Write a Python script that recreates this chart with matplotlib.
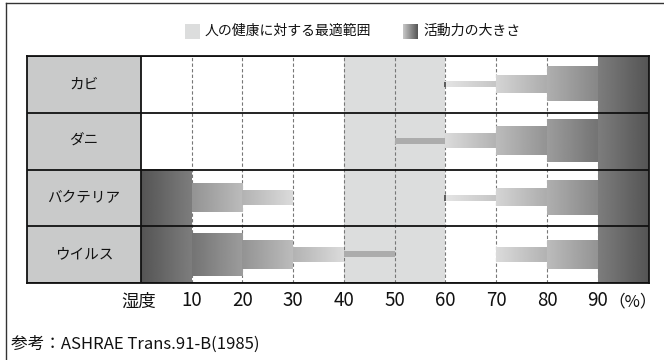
import numpy as np
import matplotlib
matplotlib.use("Agg")
import matplotlib.pyplot as plt
from matplotlib.patches import Rectangle
from matplotlib.lines import Line2D

plt.rcParams['font.family'] = ['Noto Sans CJK JP', 'DejaVu Sans']

# data
organisms = ['カビ', 'ダニ', 'バクテリア', 'ウイルス']
seg_start = [[60, 70, 80, 90],
             [50, 60, 70, 80, 90],
             [0, 10, 20, 60, 70, 80, 90],
             [0, 10, 20, 30, 40, 70, 80, 90]]
# activity level (fraction of row height)
seg_level = [[0.1, 0.3, 0.6, 1.0],
             [0.1, 0.25, 0.5, 0.75, 1.0],
             [1.0, 0.5, 0.25, 0.1, 0.3, 0.6, 1.0],
             [1.0, 0.75, 0.5, 0.25, 0.1, 0.25, 0.5, 1.0]]
seg_width = 10
optimal = (40, 60)
humidity_ticks = [10, 20, 30, 40, 50, 60, 70, 80, 90]
legend_labels = ['人の健康に対する最適範囲', '活動力の大きさ']
source = '参考：ASHRAE Trans.91-B(1985)'

W, H = 664, 360
fig = plt.figure(figsize=(W / 100, H / 100), dpi=100, facecolor='w')

# table axes: pixels x 27..648.5, y 56..283
x0, x1, y0, y1 = 27, 648.5, 56, 283
ax = fig.add_axes([x0 / W, 1 - y1 / H, (x1 - x0) / W, (y1 - y0) / H])
lab_w = 22.45  # label column width in data units
nrow = len(organisms)

band_col = '#dcdddd'
ax.axvspan(optimal[0], optimal[1], color=band_col, zorder=0, lw=0)
ax.add_patch(Rectangle((-lab_w, 0), lab_w, nrow, facecolor='#c9caca',
                       edgecolor='none', zorder=0))

for t in humidity_ticks:
    ax.axvline(t, color='#777777', lw=0.8, ls=(0, (3, 2)), zorder=1)


def grad(light, dark, dark_right):
    g = np.linspace(light, dark, 64) if dark_right else np.linspace(dark, light, 64)
    return g[None, :]


for i, name in enumerate(organisms):
    cy = nrow - i - 0.5
    for s, h in zip(seg_start[i], seg_level[i]):
        dark = 85 + (1 - h) * 125
        light = min(dark + 40, 228)
        if optimal[0] <= s < optimal[1]:
            img = np.full((1, 2), 172.0)
        else:
            img = grad(light, dark, s >= 50)
        ax.imshow(img, cmap='gray', vmin=0, vmax=255, aspect='auto',
                  extent=(s, s + seg_width, cy - h / 2, cy + h / 2),
                  interpolation='bilinear', zorder=2)
        if s == optimal[1] and h < 0.2:
            ax.plot([s, s], [cy - h / 2, cy + h / 2], color='#444444',
                    lw=1.2, solid_capstyle='butt', zorder=3)
    ax.text(-lab_w / 2, cy, name, ha='center', va='center', fontsize=10.5,
            color='#111111')

for k in range(nrow + 1):
    ax.axhline(k, color='#111111', lw=1.3, zorder=4)
ax.axvline(0, color='#111111', lw=1.3, zorder=4)

ax.set_xlim(-lab_w, 100)
ax.set_ylim(0, nrow)
for sp in ax.spines.values():
    sp.set_linewidth(1.3)
    sp.set_color('#111111')
    sp.set_zorder(5)
ax.set_yticks([])
ax.set_xticks(humidity_ticks)
ax.set_xticklabels([str(t) for t in humidity_ticks], fontsize=13.5)
ax.tick_params(axis='x', length=0, pad=5, colors='#111111')
ax.text(2.9, -0.045, '湿度', transform=ax.get_xaxis_transform(), ha='right',
        va='top', fontsize=12.5, color='#111111')
ax.text(96.9, -0.045, '（%）', transform=ax.get_xaxis_transform(), ha='center',
        va='top', fontsize=12, color='#111111')

# legend
fig.patches.append(Rectangle((185 / W, 1 - 39 / H), 15 / W, 15 / H,
                             facecolor=band_col, edgecolor='none',
                             transform=fig.transFigure))
fig.text(205 / W, 1 - 31 / H, legend_labels[0], ha='left', va='center',
         fontsize=10, color='#111111')
lax = fig.add_axes([403 / W, 1 - 39 / H, 15 / W, 15 / H])
lax.imshow(grad(200, 85, True), cmap='gray', vmin=0, vmax=255, aspect='auto',
           interpolation='bilinear')
lax.axis('off')
fig.text(423 / W, 1 - 31 / H, legend_labels[1], ha='left', va='center',
         fontsize=10, color='#111111')

fig.text(11 / W, 1 - 344 / H, source, ha='left', va='center', fontsize=12,
         color='#111111')

# outer frame (left and top)
fig.lines.append(Line2D([6 / W, 6 / W], [0, 1 - 3 / H], color='#333333',
                        lw=1, transform=fig.transFigure))
fig.lines.append(Line2D([6 / W, 1], [1 - 3 / H, 1 - 3 / H], color='#333333',
                        lw=1, transform=fig.transFigure))

fig.savefig('out.png', dpi=100, facecolor='w')
